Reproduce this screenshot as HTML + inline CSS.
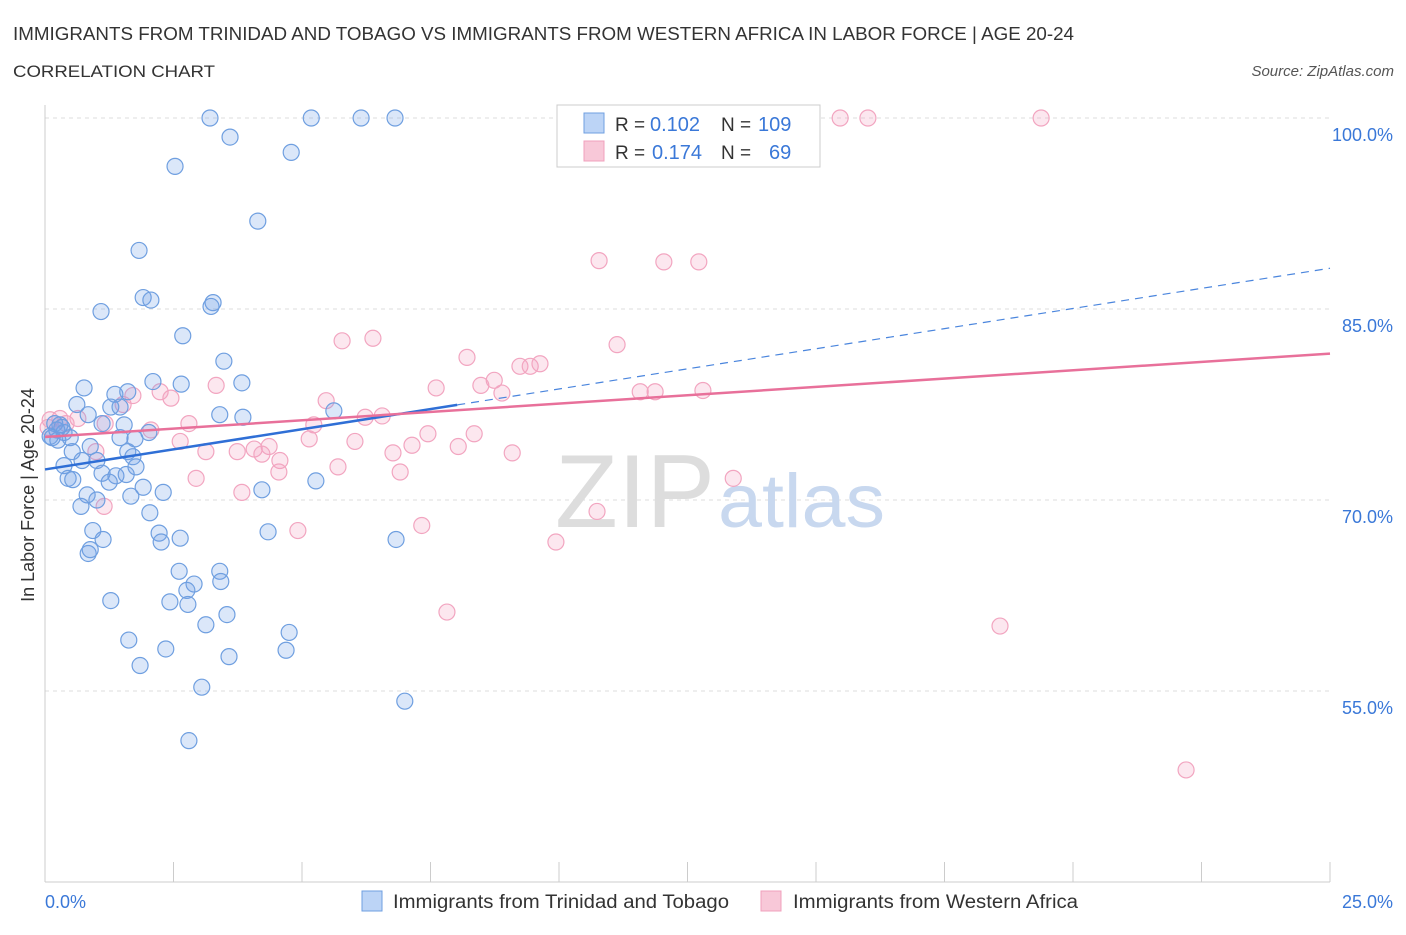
<!DOCTYPE html>
<html><head><meta charset="utf-8"><style>
body{margin:0;background:#fff;font-family:"Liberation Sans",sans-serif;}
svg text{font-family:"Liberation Sans",sans-serif;}
</style></head><body>
<svg id="chart" width="1406" height="930" xmlns="http://www.w3.org/2000/svg">
<text x="13" y="40" font-size="18" fill="#333" textLength="1061" lengthAdjust="spacingAndGlyphs">IMMIGRANTS FROM TRINIDAD AND TOBAGO VS IMMIGRANTS FROM WESTERN AFRICA IN LABOR FORCE | AGE 20-24</text>
<text x="13" y="77" font-size="17" fill="#333" textLength="202" lengthAdjust="spacingAndGlyphs">CORRELATION CHART</text>
<text x="1394" y="76" font-size="15" fill="#555" font-style="italic" text-anchor="end">Source: ZipAtlas.com</text>
<text x="34" y="495" font-size="18" fill="#333" text-anchor="middle" transform="rotate(-90 34 495)">In Labor Force | Age 20-24</text>
<g id="grid"></g>
<g id="axes"></g>
<text x="555" y="527" font-size="104" fill="#ddd" font-family="Liberation Serif" textLength="160" lengthAdjust="spacingAndGlyphs">ZIP</text>
<text x="718" y="527" font-size="76" fill="#c8d8ef" textLength="167" lengthAdjust="spacingAndGlyphs">atlas</text>
<g id="pts"></g>
<g id="trends"></g>
<g>
<rect x="557" y="105" width="263" height="62" fill="#fff" stroke="#ccc"/>
<rect x="584" y="113" width="20" height="20" fill="#bcd4f6" stroke="#6f9fe0"/>
<text x="615" y="131" font-size="19" fill="#333">R =</text>
<text x="650" y="131" font-size="20" fill="#3a78d8">0.102</text>
<text x="721" y="131" font-size="19" fill="#333">N =</text>
<text x="758" y="131" font-size="20" fill="#3a78d8">109</text>
<rect x="584" y="141" width="20" height="20" fill="#f8c8d8" stroke="#f0a0bc"/>
<text x="615" y="159" font-size="19" fill="#333">R =</text>
<text x="652" y="159" font-size="20" fill="#3a78d8">0.174</text>
<text x="721" y="159" font-size="19" fill="#333">N =</text>
<text x="769" y="159" font-size="20" fill="#3a78d8">69</text>
</g>
<g>
<rect x="362" y="891" width="20" height="20" fill="#bcd4f6" stroke="#6f9fe0"/>
<text x="393" y="908" font-size="19" fill="#333" textLength="336" lengthAdjust="spacingAndGlyphs">Immigrants from Trinidad and Tobago</text>
<rect x="761" y="891" width="20" height="20" fill="#f8c8d8" stroke="#f0a0bc"/>
<text x="793" y="908" font-size="19" fill="#333" textLength="285" lengthAdjust="spacingAndGlyphs">Immigrants from Western Africa</text>
</g>
</svg>
<script>
const yTicks=[100,85,70,55];
const yTickLabels=["100.0%","85.0%","70.0%","55.0%"];
const xTickLabels=["0.0%","25.0%"];
const blueX=[3.21,5.18,6.15,6.81,3.60,4.79,2.53,4.14,1.83,1.91,2.06,3.27,3.23,1.09,2.68,3.48,2.10,2.65,3.83,0.76,1.36,1.61,0.62,1.28,1.46,3.40,3.85,5.62,0.84,1.11,1.54,0.29,0.23,0.37,0.14,0.49,1.46,1.75,2.02,0.88,1.61,0.53,1.01,1.71,0.37,0.72,1.77,1.11,1.38,1.58,0.45,0.54,1.25,1.91,2.30,4.22,5.27,0.82,1.01,1.67,0.70,2.04,0.93,1.13,2.22,2.63,2.26,4.34,6.83,0.84,0.88,2.61,3.40,2.90,2.76,3.42,1.28,2.43,2.78,3.54,3.13,4.75,1.63,2.35,4.69,3.58,1.85,3.05,7.00,2.80,0.19,0.10,0.25,0.33];
const blueY=[100,100,100,100,98.5,97.3,96.2,91.9,89.6,85.9,85.7,85.5,85.2,84.8,82.9,80.9,79.3,79.1,79.2,78.8,78.3,78.5,77.5,77.3,77.3,76.7,76.5,77.0,76.7,76.0,75.9,75.9,75.5,75.3,74.9,74.9,74.9,74.8,75.3,74.2,73.8,73.8,73.1,73.4,72.7,73.1,72.6,72.1,71.9,72.0,71.7,71.6,71.4,71.0,70.6,70.8,71.5,70.4,70.0,70.3,69.5,69.0,67.6,66.9,67.4,67.0,66.7,67.5,66.9,65.8,66.1,64.4,64.4,63.4,62.9,63.6,62.1,62.0,61.8,61.0,60.2,59.6,59.0,58.3,58.2,57.7,57.0,55.3,54.2,51.1,76.0,75.0,74.7,75.7];
const pinkX=[15.47,16.01,19.38,10.78,12.04,12.72,5.78,6.38,11.13,8.21,9.24,9.44,9.63,8.74,8.48,7.61,3.33,2.24,2.45,8.89,11.58,11.87,12.80,5.47,1.52,1.71,0.64,0.41,1.17,6.23,6.56,2.06,2.80,7.45,8.35,5.23,2.63,6.03,5.14,8.04,7.14,3.74,3.13,0.99,4.36,4.07,4.22,6.77,9.09,5.70,4.57,6.91,4.55,2.94,13.39,3.83,1.15,10.74,4.92,7.33,9.94,7.82,18.58,22.20,0.10,0.06,0.29];
const pinkY=[100,100,100,88.8,88.7,88.7,82.5,82.7,82.2,81.2,80.5,80.5,80.7,79.4,79.0,78.8,79.0,78.5,78.0,78.4,78.5,78.5,78.6,77.8,77.5,78.2,76.4,76.0,76.0,76.5,76.6,75.5,76.0,75.2,75.2,75.9,74.6,74.6,74.8,74.2,74.3,73.8,73.8,73.8,74.2,74.0,73.6,73.7,73.7,72.6,73.1,72.2,72.2,71.7,71.7,70.6,69.5,69.1,67.6,68.0,66.7,61.2,60.1,48.8,76.3,75.7,76.4];
const blueTrend=[72.4,88.2], blueSolidEnd=8.02;
const pinkTrend=[74.95,81.5];
const X0=45,X1=1330,Y0=118,YB=882;
const sx=v=>X0+(v/25)*(X1-X0);
const sy=v=>Y0+(100-v)*(764/60);
const NS="http://www.w3.org/2000/svg";
function mk(tag,attrs,parent){const e=document.createElementNS(NS,tag);for(const k in attrs)e.setAttribute(k,attrs[k]);document.getElementById(parent).appendChild(e);return e;}
yTicks.forEach((t,i)=>{
 const g=mk('line',{x1:X0,x2:X1,y1:sy(t),y2:sy(t),stroke:'#ddd','stroke-dasharray':'4,4'},'grid');
 
 
 const l=mk('text',{x:1393,y:sy(t)+23,'font-size':18,fill:'#3a78d8','text-anchor':'end'},'axes');
 l.textContent=yTickLabels[i];
 
 
});
mk('line',{x1:X0,x2:X0,y1:105,y2:YB,stroke:'#ccc'},'axes');
mk('line',{x1:X0,x2:X1,y1:YB,y2:YB,stroke:'#ccc'},'axes');
for(let i=0;i<=10;i++){const x=sx(i*2.5);mk('line',{x1:x,x2:x,y1:862,y2:YB,stroke:'#ccc'},'axes');}
[0,25].forEach((v,i)=>{
 const t=mk('text',{x:i?1393:45,y:908,'font-size':18,fill:'#3a78d8','text-anchor':i?'end':'start'},'axes');
 t.textContent=xTickLabels[i];
 
 
});
pinkX.forEach((x,i)=>{
 const c=mk('circle',{cx:sx(x),cy:sy(pinkY[i]),r:8,fill:'rgba(244,160,190,0.25)',stroke:'#f2a5c0','stroke-width':1.2},'pts');
 
 
});
blueX.forEach((x,i)=>{
 const c=mk('circle',{cx:sx(x),cy:sy(blueY[i]),r:8,fill:'rgba(110,160,230,0.25)',stroke:'#6f9fe0','stroke-width':1.2},'pts');
 
 
});
const by=v=>blueTrend[0]+(blueTrend[1]-blueTrend[0])*v/25;
let l1=mk('line',{x1:sx(0),y1:sy(by(0)),x2:sx(blueSolidEnd),y2:sy(by(blueSolidEnd)),stroke:'#2f6fd6','stroke-width':2.5},'trends');


let l2=mk('line',{x1:sx(blueSolidEnd),y1:sy(by(blueSolidEnd)),x2:sx(25),y2:sy(by(25)),stroke:'#4a85dd','stroke-width':1.2,'stroke-dasharray':'8,6'},'trends');


let l3=mk('line',{x1:sx(0),y1:sy(pinkTrend[0]),x2:sx(25),y2:sy(pinkTrend[1]),stroke:'#e8709a','stroke-width':2.5},'trends');


</script>
</body></html>
